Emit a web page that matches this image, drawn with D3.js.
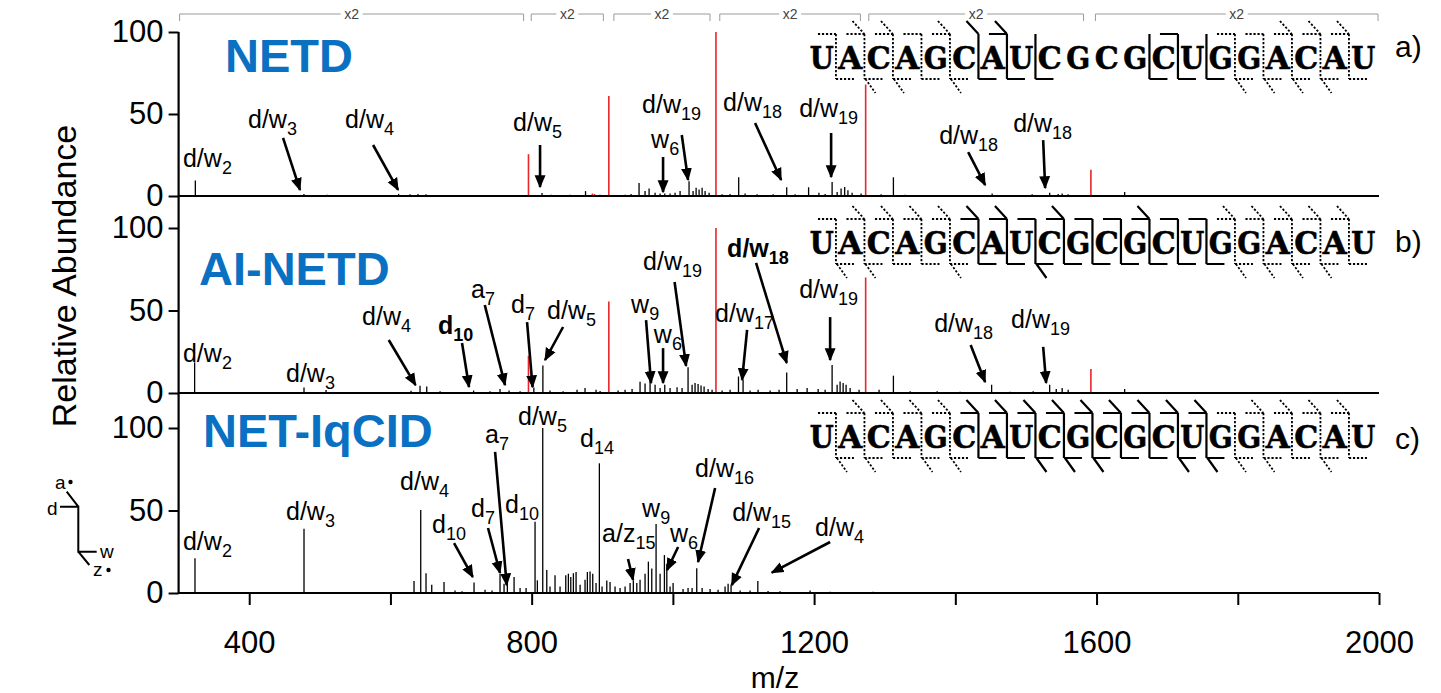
<!DOCTYPE html>
<html><head><meta charset="utf-8">
<script src="https://cdn.jsdelivr.net/npm/d3@7"></script>
<style>body{margin:0;background:#fff}</style>
</head><body>
<svg id="chart" width="1441" height="693"></svg>
<script>
// ---------------- DATA ----------------
const sequence = "UACAGCAUCGCGCUGGACAU".split("");
const panelNames = ["NETD", "AI-NETD", "NET-IqCID"];
const panelTags = ["a)", "b)", "c)"];
const yTickValues = [0, 50, 100];
const xTickValues = [400, 600, 800, 1000, 1200, 1400, 1600, 1800, 2000];
const xTickLabels = [400, 800, 1200, 1600, 2000];
const x2Ranges = [[300, 790], [798, 903], [915, 1054], [1065, 1267], [1276, 1583], [1597, 2000]];

// precursor (red) peaks
const precursorMz = [795.5, 909.3, 1061, 1273, 1592];
const precursorNETD = [25.5, 61, 100, 68, 16];
const precursorAINETD = [22.6, 55.5, 100, 70, 14.5];
const redExtraNETD = [[886, 1.5], [889, 1.2]];

// fragment peaks [m/z, relative abundance]
const peaksNETD = [[323.7,9.5],[477.5,1.2],[510.2,0.8],[571.1,0.6],[611.6,1.3],[627.8,1],[639.1,1.2],[650.4,1],
 [755.2,0.6],[772.2,0.5],[814.7,1.8],[827.4,0.8],[854.4,0.7],[876.3,3],[896.9,0.8],[932.3,0.8],[940.8,1.2],
 [952.1,8],[960.6,3],[966.3,4.5],[974.8,2],[981.9,1.5],[988.5,1.5],[996,1.5],[1003.1,2],[1010.2,3],[1022.9,9],
 [1028.6,3],[1032.9,5],[1037.1,4],[1041.4,5],[1045.6,3],[1051.3,2],[1069.7,1],[1081,1.2],[1093.2,11.5],[1102.3,1.5],
 [1119.3,1],[1142,1],[1161.2,5.3],[1173.1,1],[1192.2,5.3],[1206.8,2],[1215.6,1.2],[1225.5,8.5],[1232.6,2.5],
 [1238.2,4.5],[1243.3,5.5],[1247.9,3.5],[1253.8,2],[1266.6,1.5],[1294.9,1],[1312.3,11.4],[1328.9,0.8],[1374.2,0.6],
 [1428,0.6],[1452.1,1.5],[1508.8,1],[1533.6,2],[1545.6,1.2],[1551.3,1.5],[1559.8,1],[1639.8,2.5],[1661.8,0.5],[1746.8,0.4]];

const peaksAINETD = [[322.7,18.6],[477.6,3.4],[508.8,1.8],[629.2,1.4],[641.9,4.4],[651.4,4],[670.3,1],[717.8,1.5],
 [741,1],[755.2,2.5],[768,1.5],[783.6,1],[803.1,3.4],[815.9,16.6],[826,1.5],[844.5,1],[864.3,2],[875.6,3],[891.2,2],
 [896.9,1.2],[922.4,1.5],[932.3,2],[942.2,2.5],[953.5,6.8],[960.6,5.7],[967.7,9.5],[974.8,5],[981.9,3],[988.5,5],
 [996,3],[1005.9,3.5],[1013,3],[1021.5,15.6],[1027.2,5],[1031.4,6],[1035.7,5.5],[1039.9,4.5],[1044.2,4],[1049.9,2.5],
 [1055.5,2],[1069.7,1.5],[1081,2],[1092.9,10],[1099.4,8],[1109.3,1.5],[1120.7,2],[1137.7,1.5],[1150.4,2],[1161.2,12.5],
 [1176,2.5],[1190.1,3],[1205.7,2.5],[1215.6,2],[1225.5,17],[1232.6,5],[1236.8,7],[1241.1,6],[1245.3,5],[1251,3],
 [1263.7,2],[1292,2],[1312.3,10.5],[1336,1],[1374.2,1],[1406.8,0.8],[1451.4,5],[1477.6,0.8],[1510.2,1],[1533.6,5],
 [1542.9,2.5],[1551.3,3],[1559.8,2],[1639.8,2.4],[1689.4,0.6]];

const peaksIqCID = [[323.2,21],[401,0.5],[477.6,39],[514,0.6],[633.4,7.3],[642.9,50.3],[650.4,12],[658.5,5],[675.9,6.7],
 [691.5,1.5],[701.4,1],[718.4,6.3],[734,2],[743.9,1.5],[755.2,11.5],[760.9,5.6],[765.6,7.6],[775.1,9.7],[783.6,3],
 [792.1,3],[804.8,43.2],[808.1,7.7],[815.7,100],[821.4,14],[826,4],[833.1,10.7],[840.2,4],[848.3,10.7],[852,11.7],
 [855.4,9.7],[859.1,12],[862.9,12.7],[868.6,5],[875.6,8],[878.9,12.7],[882.7,13],[886.5,11.7],[891.2,6],[895.9,78.6],
 [899.7,4],[906.4,7.6],[911,6.7],[918.1,4],[925.2,3],[932.3,4],[939.4,6],[944,7.6],[948.9,6],[953.5,8],[960.6,11.7],
 [965.3,19],[970.1,14.8],[976.2,41.8],[981.9,11.7],[988,23],[991.4,17.8],[996,4],[1000.3,6],[1014.4,2.5],[1021.5,3],
 [1027.2,3],[1033.8,15],[1041.4,3],[1052.7,2.5],[1064,2],[1073.9,4],[1078.2,5.6],[1082.4,5],[1095.2,1.5],[1109.3,1.5],
 [1120.3,7.3],[1134.8,1.2],[1151.8,1],[1194.3,1.5],[1222.7,0.7],[1283.6,0.8],[1321.8,0.4]];

// annotations: label anchor (m/z, %) and optional arrow [mz1,%1,mz2,%2]
const annNETD = [
 {t:"d/w", s:"2", mz:306.2, v:17.7},
 {t:"d/w", s:"3", mz:398.3, v:41.5, a:[447.9,35.4,471.9,3.7]},
 {t:"d/w", s:"4", mz:535.7, v:41.5, a:[575.4,31.1,610.8,3.7]},
 {t:"d/w", s:"5", mz:773.7, v:39.6, a:[811.9,31.1,811.9,5.5]},
 {t:"d/w", s:"19", mz:956.4, v:50.6, a:[1012.6,37.2,1021.5,9.8]},
 {t:"w", s:"6", mz:969.1, v:29.3, a:[986.1,23.8,986.1,2.4]},
 {t:"d/w", s:"18", mz:1071.1, v:51.8, a:[1116.4,44.5,1153.3,9.8]},
 {t:"d/w", s:"19", mz:1178.8, v:48.2, a:[1224.1,38.4,1224.1,11.6]},
 {t:"d/w", s:"18", mz:1377.1, v:31.7, a:[1418.2,26.8,1442.2,6.7]},
 {t:"d/w", s:"18", mz:1481.9, v:39, a:[1524.4,34.1,1527.2,4.9]}];

const annAINETD = [
 {t:"d/w", s:"2", mz:306.2, v:18.8},
 {t:"d/w", s:"3", mz:452.1, v:6.7},
 {t:"d/w", s:"4", mz:559.8, v:41.2, a:[597.6,32.1,635.6,4.8]},
 {t:"d", s:"10", mz:667.4, v:35.8, a:[701.4,30.3,711.3,3.6], b:1},
 {t:"a", s:"7", mz:714.2, v:57.6, a:[733.6,53.3,762.3,4.8]},
 {t:"d", s:"7", mz:770.8, v:48.5, a:[793.5,43,801.3,3.6]},
 {t:"d/w", s:"5", mz:821.8, v:44.8, a:[844.5,40,819,20]},
 {t:"w", s:"9", mz:940.8, v:48.5, a:[962,44.2,969.1,6.1]},
 {t:"w", s:"6", mz:973, v:30.2, a:[986.1,27.2,986.1,6.1]},
 {t:"d/w", s:"19", mz:957.8, v:74.5, a:[1002.4,67.3,1018.7,16.4]},
 {t:"d/w", s:"18", mz:1076.8, v:82.4, a:[1117.8,78.8,1161.2,18.2], b:1},
 {t:"d/w", s:"17", mz:1059.8, v:43, a:[1105.1,38.2,1098,7.9]},
 {t:"d/w", s:"19", mz:1178.8, v:57.6, a:[1222.7,46,1222.7,20]},
 {t:"d/w", s:"18", mz:1370, v:37, a:[1421.7,29.1,1442.2,6.7]},
 {t:"d/w", s:"19", mz:1479, v:39.4, a:[1524.4,27.9,1528.6,6.1]}];

const annIqCID = [
 {t:"d/w", s:"2", mz:306.2, v:26.1},
 {t:"d/w", s:"3", mz:452.1, v:44.2},
 {t:"d/w", s:"4", mz:613.6, v:62.4},
 {t:"d", s:"10", mz:658.9, v:36.4, a:[690.1,30.3,716.6,9.7]},
 {t:"d", s:"7", mz:714.2, v:46.1, a:[738.2,39.4,755.2,12.1]},
 {t:"a", s:"7", mz:734, v:90.9, a:[748.2,85.5,764.7,4.8]},
 {t:"d", s:"10", mz:762.3, v:48.5},
 {t:"d/w", s:"5", mz:780.7, v:101.8},
 {t:"d", s:"14", mz:868.6, v:88.5},
 {t:"a/z", s:"15", mz:899.7, v:30.9, a:[936.5,20.6,943.6,7.9]},
 {t:"w", s:"9", mz:956.4, v:46.1},
 {t:"w", s:"6", mz:996, v:30.9, a:[1007.4,27.9,991.8,13.9]},
 {t:"d/w", s:"16", mz:1031.4, v:70.3, a:[1059.8,63.6,1035.7,18.8]},
 {t:"d/w", s:"15", mz:1083.9, v:43.6, a:[1122.1,39.4,1083.4,4.8]},
 {t:"d/w", s:"4", mz:1201.4, v:34.5, a:[1222.7,30.9,1140.1,12.3]}];

// cleavage markers per inter-nucleotide site (1..19): d=dotted(d/w), s=solid(a/z);
// T=5' bar, A=a-diagonal, W=3' bar, Z=z-diagonal
const cleavNETD   = ["dTW","dTAWZ","dTAWZ","dTW","dTAWZ","sAW","sTAW","sW","","","","sW","sTW","sW","dTWZ","dTWZ","dTAWZ","dTAWZ","dTAW"];
const cleavAINETD = ["dTWZ","dTAWZ","dTAW","dTAW","dTAWZ","sTAW","sTAW","sTWZ","sTAW","sTW","sTW","sTAW","sTW","sTW","dTAWZ","dTAWZ","dTAWZ","dTAWZ","dTAW"];
const cleavIqCID  = ["dTWZ","dTAWZ","dTAW","dTAWZ","dTAWZ","sTAW","sTAW","sTAWZ","sTAWZ","sTAWZ","sTAW","sTAW","sTAWZ","sTAWZ","dTWZ","dTAWZ","dTAW","dTAWZ","dTAW"];

// ---------------- DRAW ----------------
const FONT = "'Liberation Sans', Arial, Helvetica, sans-serif";
const RED = "#e8262b";
const BLUE = "#0a70c2";
const svg = d3.select("#chart");
svg.append("rect").attr("width",1441).attr("height",693).attr("fill","#fff");

const defs = svg.append("defs");
defs.append("marker").attr("id","ah").attr("viewBox","0 0 10 10").attr("refX",9).attr("refY",5)
  .attr("markerWidth",13).attr("markerHeight",13).attr("markerUnits","userSpaceOnUse").attr("orient","auto")
  .append("path").attr("d","M0,0.8 L10,5 L0,9.2 z").attr("fill","#000");

const x = d3.scaleLinear().domain([300, 2000]).range([178.6, 1379]);

const panels = [
  {name: panelNames[0], tag: panelTags[0], base: 196, top: 32, peaks: peaksNETD, red: precursorNETD, redExtra: redExtraNETD, ann: annNETD, cleav: cleavNETD, seqTop: 46, titleX: 225, titleY: 72, tagY: 57},
  {name: panelNames[1], tag: panelTags[1], base: 393, top: 228, peaks: peaksAINETD, red: precursorAINETD, redExtra: [], ann: annAINETD, cleav: cleavAINETD, seqTop: 231, titleX: 199, titleY: 285, tagY: 252},
  {name: panelNames[2], tag: panelTags[2], base: 593, top: 428, peaks: peaksIqCID, red: null, redExtra: [], ann: annIqCID, cleav: cleavIqCID, seqTop: 425, titleX: 203, titleY: 447, tagY: 449}
];

// x2 brackets
const br = svg.append("g").attr("stroke","#9a9a9a").attr("stroke-width",1).attr("fill","none");
x2Ranges.forEach(r => {
  const x0 = x(r[0]) + 1, x1 = x(r[1]) - 1, xm = (x0 + x1) / 2;
  br.append("path").attr("d", `M${x0},21V14H${xm-11}M${xm+11},14H${x1}V21`);
  svg.append("text").attr("x", xm).attr("y", 19).attr("text-anchor","middle")
    .attr("font-family",FONT).attr("font-size",14).attr("fill","#444").text("x2");
});

panels.forEach(p => {
  const y = d3.scaleLinear().domain([0, 100]).range([p.base, p.top]);
  const g = svg.append("g");

  // peaks
  g.append("g").selectAll("line").data(p.peaks).join("line")
    .attr("x1", d => x(d[0])).attr("x2", d => x(d[0]))
    .attr("y1", y(0)).attr("y2", d => y(d[1]))
    .attr("stroke", "#000").attr("stroke-width", 1.3);
  if (p.red) {
    g.append("g").selectAll("line").data(precursorMz.map((m, i) => [m, p.red[i]]).concat(p.redExtra)).join("line")
      .attr("x1", d => x(d[0])).attr("x2", d => x(d[0]))
      .attr("y1", y(0)).attr("y2", d => y(d[1]))
      .attr("stroke", RED).attr("stroke-width", 1.6);
  }

  // baseline
  g.append("line").attr("x1", x(300)).attr("x2", x(2000)).attr("y1", y(0)).attr("y2", y(0))
    .attr("stroke","#000").attr("stroke-width",2.2);

  // y axis
  const ya = g.append("g").attr("transform", `translate(${x(300)},0)`)
    .call(d3.axisLeft(y).tickValues(yTickValues).tickSize(10).tickPadding(5));
  ya.select(".domain").remove();
  ya.selectAll(".tick line").attr("stroke-width", 2);
  ya.selectAll("text").attr("font-family", FONT).attr("font-size", 31).attr("fill","#000");

  // title
  svg.append("text").attr("x", p.titleX).attr("y", p.titleY).attr("font-family", FONT)
    .attr("font-weight","bold").attr("font-size", 47).attr("fill", BLUE).text(p.name);
  // panel tag
  svg.append("text").attr("x", 1395).attr("y", p.tagY).attr("font-family", FONT)
    .attr("font-size", 30).attr("fill","#000").text(p.tag);

  // annotations
  p.ann.forEach(a => {
    const t = svg.append("text").attr("x", x(a.mz)).attr("y", y(a.v)).attr("font-family", FONT)
      .attr("fill","#000").attr("font-weight", a.b ? "bold" : "normal");
    t.append("tspan").attr("font-size", 25).text(a.t);
    t.append("tspan").attr("font-size", 18).attr("dy", 7).text(a.s);
    if (a.a) {
      svg.append("line").attr("x1", x(a.a[0])).attr("y1", y(a.a[1]))
        .attr("x2", x(a.a[2])).attr("y2", y(a.a[3]))
        .attr("stroke","#000").attr("stroke-width", 2.6).attr("marker-end","url(#ah)");
    }
  });

  // sequence
  const pitch = 28.5, c0 = 821.7;
  const T = p.seqTop, B = p.seqTop + 23;
  const sg = svg.append("g");
  sequence.forEach((ch, i) => {
    sg.append("text").attr("x", c0 + pitch * i - 12).attr("y", B)
      .attr("font-family","'DejaVu Serif', serif").attr("font-weight","bold").attr("font-size", 32)
      .attr("textLength", 24).attr("lengthAdjust","spacingAndGlyphs").attr("fill","#000")
      .attr("stroke","#000").attr("stroke-width",0.6).text(ch);
  });
  const yT = T - 12, yB = B + 10;
  p.cleav.forEach((code, k) => {
    if (!code) return;
    const bx = c0 + pitch * (k + 1) - pitch / 2;
    const dotted = code[0] === "d";
    const path = [];
    path.push(`M${bx},${yT}V${yB}`);
    if (code.includes("T")) path.push(`M${bx-18},${yT}H${bx}`);
    if (code.includes("A")) path.push(`M${bx-12},${yT-13}L${bx},${yT}`);
    if (code.includes("W")) path.push(`M${bx},${yB}H${bx+18}`);
    if (code.includes("Z")) path.push(`M${bx+1},${yB}L${bx+11},${yB+14}`);
    sg.append("path").attr("d", path.join("")).attr("fill","none").attr("stroke","#000")
      .attr("stroke-width", dotted ? 1.8 : 2.2).attr("stroke-dasharray", dotted ? "2.2,1.8" : null);
  });
});

// continuous y axis line
svg.append("line").attr("x1", x(300)).attr("x2", x(300)).attr("y1", 32).attr("y2", 594)
  .attr("stroke","#000").attr("stroke-width", 2.2);

// x axis (bottom)
const xa = svg.append("g").attr("transform", "translate(0,593)")
  .call(d3.axisBottom(x).tickValues(xTickValues).tickSize(12).tickPadding(26)
    .tickFormat(d => xTickLabels.includes(d) ? d : ""));
xa.select(".domain").remove();
xa.selectAll(".tick line").attr("stroke-width", 2);
xa.selectAll("text").attr("font-family", FONT).attr("font-size", 31).attr("fill","#000");

svg.append("text").attr("x", 775).attr("y", 688).attr("text-anchor","middle").attr("font-family", FONT)
  .attr("font-size", 30).text("m/z");
svg.append("text").attr("transform","translate(76,276) rotate(-90)").attr("text-anchor","middle")
  .attr("font-family", FONT).attr("font-size", 34).text("Relative Abundance");

// fragment legend
const lg = svg.append("g").attr("stroke","#000").attr("stroke-width",2).attr("fill","none");
lg.append("path").attr("d","M60,506.7H78.3V551.7H96.7M66.7,491.7L78.3,506.7M78.3,551.7L89.3,565");
const lt = [["a",55,489],["d",47,515],["w",100,558],["z",93,576]];
lt.forEach(d => svg.append("text").attr("x", d[1]).attr("y", d[2]).attr("font-family", FONT)
  .attr("font-size", 19).text(d[0]));
svg.append("circle").attr("cx",70.5).attr("cy",482).attr("r",2.2).attr("fill","#000");
svg.append("circle").attr("cx",108.5).attr("cy",570).attr("r",2.2).attr("fill","#000");
</script>
</body></html>
